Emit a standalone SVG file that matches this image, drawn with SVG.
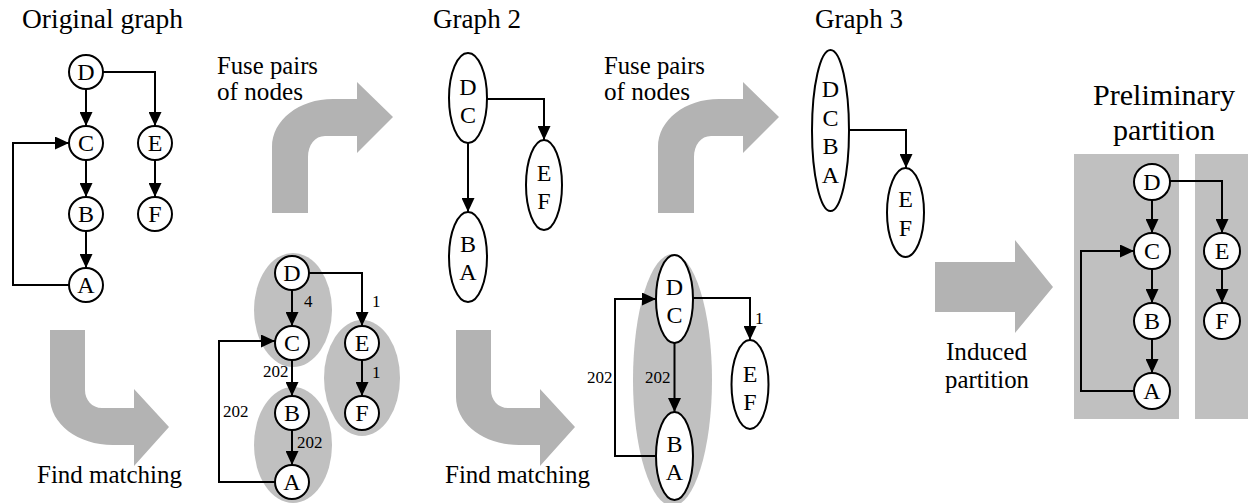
<svg xmlns="http://www.w3.org/2000/svg" width="1248" height="503" viewBox="0 0 1248 503">
<defs>
<marker id="ah" markerUnits="userSpaceOnUse" markerWidth="14" markerHeight="13" refX="14" refY="6.5" orient="auto">
<path d="M0,0 L14,6.5 L0,13 Z" fill="#000"/>
</marker>
<style>
text{font-family:"Liberation Serif",Tinos,"Times New Roman",Times,"Nimbus Roman","Nimbus Roman No9 L",FreeSerif,"Noto Serif","DejaVu Serif",serif;fill:#000}
.title{font-size:27px}
.lbl{font-size:25px}
.big{font-size:30px}
.n{font-size:24px;text-anchor:middle}
.w{font-size:17px}
.node{fill:#fff;stroke:#000;stroke-width:2}
.arr{fill:none;stroke:#000;stroke-width:2;marker-end:url(#ah)}
.big-arrow{fill:#b3b3b3}
.bg{fill:#c0c0c0}
</style>
</defs>
<rect width="1248" height="503" fill="#fff"/>

<g id="labels">
<text class="title" x="22" y="28" textLength="161" lengthAdjust="spacingAndGlyphs">Original graph</text>
<text class="title" x="433" y="28" textLength="88" lengthAdjust="spacingAndGlyphs">Graph 2</text>
<text class="title" x="815" y="28" textLength="88" lengthAdjust="spacingAndGlyphs">Graph 3</text>
<text class="lbl" x="217" y="74" textLength="101" lengthAdjust="spacingAndGlyphs">Fuse pairs</text>
<text class="lbl" x="217" y="100" textLength="86" lengthAdjust="spacingAndGlyphs">of nodes</text>
<text class="lbl" x="604" y="74" textLength="101" lengthAdjust="spacingAndGlyphs">Fuse pairs</text>
<text class="lbl" x="604" y="100" textLength="86" lengthAdjust="spacingAndGlyphs">of nodes</text>
<text class="lbl" x="37" y="483" textLength="145" lengthAdjust="spacingAndGlyphs">Find matching</text>
<text class="lbl" x="445" y="483" textLength="145" lengthAdjust="spacingAndGlyphs">Find matching</text>
<text class="lbl" x="946" y="360" textLength="81" lengthAdjust="spacingAndGlyphs">Induced</text>
<text class="lbl" x="945" y="388" textLength="84" lengthAdjust="spacingAndGlyphs">partition</text>
<text class="big" x="1093" y="105" textLength="142" lengthAdjust="spacingAndGlyphs">Preliminary</text>
<text class="big" x="1113" y="140" textLength="102" lengthAdjust="spacingAndGlyphs">partition</text>
</g>

<g id="big-arrows">
<path class="big-arrow" d="M272,213 V147 C272,120 299,99 333,99 H357 V82 L393,117 L357,153 V136 H325 C315,136 308,145 308,157 V213 Z"/>
<path class="big-arrow" transform="translate(386,0)" d="M272,213 V147 C272,120 299,99 333,99 H357 V82 L393,117 L357,153 V136 H325 C315,136 308,145 308,157 V213 Z"/>
<path class="big-arrow" d="M50,330 H85 V390 C85,400 92,408 102,408 H134 V389 L169,427 L134,466 V445 H113 C78,445 50,424 50,397 Z"/>
<path class="big-arrow" transform="translate(406,0)" d="M50,330 H85 V390 C85,400 92,408 102,408 H134 V389 L169,427 L134,466 V445 H113 C78,445 50,424 50,397 Z"/>
<path class="big-arrow" d="M935,262 H1015 V240 L1053,287 L1015,333 V312 H935 Z"/>
</g>

<g id="groups">
<ellipse class="bg" cx="293" cy="310" rx="39" ry="57"/>
<ellipse class="bg" cx="293" cy="445" rx="39" ry="58"/>
<ellipse class="bg" cx="362" cy="378" rx="38" ry="58"/>
<ellipse class="bg" cx="672.5" cy="380" rx="39.5" ry="126"/>
<rect class="bg" x="1074" y="154" width="105" height="265"/>
<rect class="bg" x="1195" y="154" width="53" height="265"/>
</g>

<g id="connectors">
<path class="arr" d="M86,89 V126"/>
<path class="arr" d="M86,160 V197"/>
<path class="arr" d="M86,231 V268"/>
<path class="arr" d="M103,72 H155 V126"/>
<path class="arr" d="M155,160 V197"/>
<path class="arr" d="M69,285 H13 V143 H69"/>
<path class="arr" d="M292,290 V326"/>
<path class="arr" d="M292,360 V396"/>
<path class="arr" d="M292,430 V465"/>
<path class="arr" d="M309,273 H362 V326"/>
<path class="arr" d="M362,360 V396"/>
<path class="arr" d="M275,482 H219 V341 H275"/>
<path class="arr" d="M487,99 H544 V140"/>
<path class="arr" d="M468,143 V212"/>
<path class="arr" d="M674.5,343 V412"/>
<path class="arr" d="M656,456 H615 V299 H656"/>
<path class="arr" d="M693,298 H750 V340"/>
<path class="arr" d="M849,130 H906 V168"/>
<path class="arr" d="M1152,200 V233"/>
<path class="arr" d="M1152,269 V303"/>
<path class="arr" d="M1152,339 V373"/>
<path class="arr" d="M1170,181 H1222 V233"/>
<path class="arr" d="M1222,269 V303"/>
<path class="arr" d="M1134,391 H1081 V251 H1134"/>
</g>

<g id="weights">
<text class="w" x="304" y="307">4</text>
<text class="w" x="372" y="307">1</text>
<text class="w" x="263" y="377">202</text>
<text class="w" x="372" y="378">1</text>
<text class="w" x="223" y="417">202</text>
<text class="w" x="297" y="448">202</text>
<text class="w" x="587" y="383">202</text>
<text class="w" x="645" y="383">202</text>
<text class="w" x="755" y="324">1</text>
</g>

<g id="o-D"><circle class="node" cx="86" cy="72" r="17"/><text class="n" x="86" y="80">D</text></g>
<g id="o-C"><circle class="node" cx="86" cy="143" r="17"/><text class="n" x="86" y="151">C</text></g>
<g id="o-B"><circle class="node" cx="86" cy="214" r="17"/><text class="n" x="86" y="222">B</text></g>
<g id="o-A"><circle class="node" cx="86" cy="285" r="17"/><text class="n" x="86" y="293">A</text></g>
<g id="o-E"><circle class="node" cx="155" cy="143" r="17"/><text class="n" x="155" y="151">E</text></g>
<g id="o-F"><circle class="node" cx="155" cy="214" r="17"/><text class="n" x="155" y="222">F</text></g>

<g id="m-D"><circle class="node" cx="292" cy="273" r="17"/><text class="n" x="292" y="281">D</text></g>
<g id="m-C"><circle class="node" cx="292" cy="343" r="17"/><text class="n" x="292" y="351">C</text></g>
<g id="m-B"><circle class="node" cx="292" cy="413" r="17"/><text class="n" x="292" y="421">B</text></g>
<g id="m-A"><circle class="node" cx="292" cy="482" r="17"/><text class="n" x="292" y="490">A</text></g>
<g id="m-E"><circle class="node" cx="362" cy="343" r="17"/><text class="n" x="362" y="351">E</text></g>
<g id="m-F"><circle class="node" cx="362" cy="413" r="17"/><text class="n" x="362" y="421">F</text></g>

<g id="g2-DC"><ellipse class="node" cx="468" cy="98" rx="19" ry="45"/><text class="n" x="468" y="95">D</text><text class="n" x="468" y="123">C</text></g>
<g id="g2-EF"><ellipse class="node" cx="544" cy="185" rx="18" ry="45"/><text class="n" x="544" y="181">E</text><text class="n" x="544" y="209">F</text></g>
<g id="g2-BA"><ellipse class="node" cx="468" cy="257" rx="19" ry="45"/><text class="n" x="468" y="252">B</text><text class="n" x="468" y="280">A</text></g>

<g id="g2m-DC"><ellipse class="node" cx="674.5" cy="299" rx="18.5" ry="44"/><text class="n" x="674.5" y="295">D</text><text class="n" x="674.5" y="323">C</text></g>
<g id="g2m-BA"><ellipse class="node" cx="674.5" cy="456" rx="18.5" ry="44"/><text class="n" x="674.5" y="452">B</text><text class="n" x="674.5" y="480">A</text></g>
<g id="g2m-EF"><ellipse class="node" cx="750" cy="384.5" rx="18.5" ry="44.5"/><text class="n" x="750" y="382">E</text><text class="n" x="750" y="410">F</text></g>

<g id="g3-DCBA"><ellipse class="node" cx="830.5" cy="130.5" rx="18.5" ry="80.5"/><text class="n" x="830.5" y="97">D</text><text class="n" x="830.5" y="125.5">C</text><text class="n" x="830.5" y="154">B</text><text class="n" x="830.5" y="183">A</text></g>
<g id="g3-EF"><ellipse class="node" cx="905.5" cy="212.5" rx="18.5" ry="44.5"/><text class="n" x="905.5" y="207">E</text><text class="n" x="905.5" y="236">F</text></g>

<g id="p-D"><circle class="node" cx="1152" cy="182" r="18"/><text class="n" x="1152" y="190">D</text></g>
<g id="p-C"><circle class="node" cx="1152" cy="251" r="18"/><text class="n" x="1152" y="259">C</text></g>
<g id="p-B"><circle class="node" cx="1152" cy="321" r="18"/><text class="n" x="1152" y="329">B</text></g>
<g id="p-A"><circle class="node" cx="1152" cy="391" r="18"/><text class="n" x="1152" y="399">A</text></g>
<g id="p-E"><circle class="node" cx="1222" cy="251" r="18"/><text class="n" x="1222" y="259">E</text></g>
<g id="p-F"><circle class="node" cx="1222" cy="321" r="18"/><text class="n" x="1222" y="329">F</text></g>
</svg>
